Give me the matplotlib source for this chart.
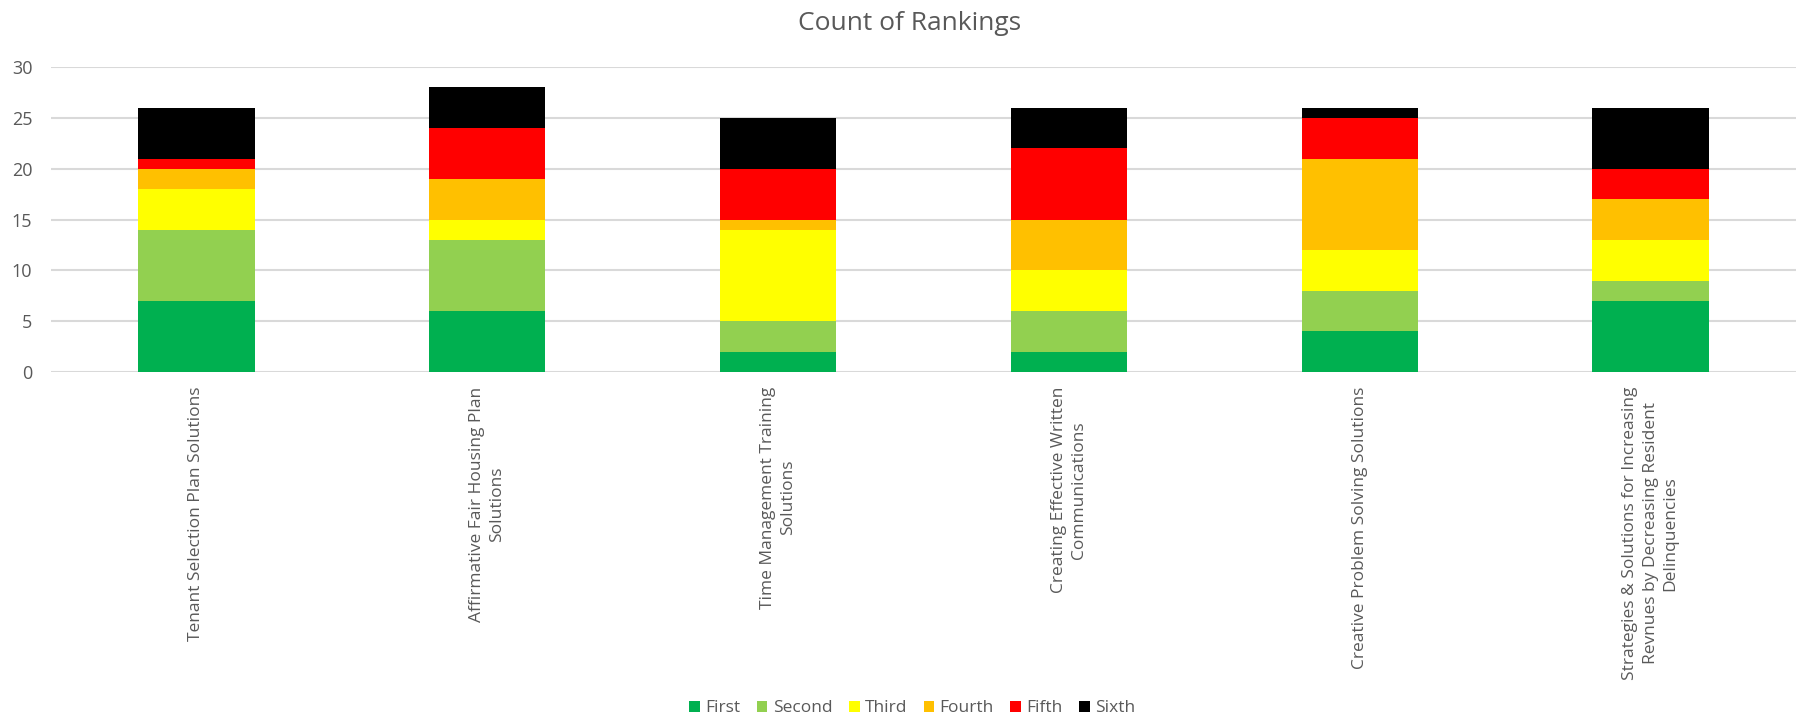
import numpy as np
import matplotlib
matplotlib.use("Agg")
import matplotlib.pyplot as plt

plt.rcParams['font.family'] = ['Open Sans', 'DejaVu Sans']

categories = [
    "Tenant Selection Plan Solutions",
    "Affirmative Fair Housing Plan\nSolutions",
    "Time Management Training\nSolutions",
    "Creating Effective Written\nCommunications",
    "Creative Problem Solving Solutions",
    "Strategies & Solutions for Increasing\nRevnues by Decreasing Resident\nDelinquencies",
]
rank_names = ["First", "Second", "Third", "Fourth", "Fifth", "Sixth"]
first = [7, 6, 2, 2, 4, 7]
second = [7, 7, 3, 4, 4, 2]
third = [4, 2, 9, 4, 4, 4]
fourth = [2, 4, 1, 5, 9, 4]
fifth = [1, 5, 5, 7, 4, 3]
sixth = [5, 4, 5, 4, 1, 6]
colors = ["#00B050", "#92D050", "#FFFF00", "#FFC000", "#FF0000", "#000000"]

series = [first, second, third, fourth, fifth, sixth]
txt = "#595959"

fig = plt.figure(figsize=(17.97, 7.21), dpi=100)
ax = fig.add_axes([0.0284, 0.484, 0.971, 0.423])

x = np.arange(len(categories))
bottom = np.zeros(len(categories))
for name, vals, c in zip(rank_names, series, colors):
    ax.bar(x, vals, 0.40, bottom=bottom, color=c, label=name, zorder=3)
    bottom += np.array(vals)

ax.set_xlim(-0.5, len(categories) - 0.5)
ax.set_ylim(0, 30)
ax.set_yticks(range(0, 31, 5))
ax.grid(axis='y', color='#d9d9d9', linewidth=1.5, zorder=0)
for s in ax.spines.values():
    s.set_visible(False)
ax.tick_params(axis='both', length=0, labelsize=13, labelcolor=txt)
ax.tick_params(axis='y', pad=13.5)
ax.tick_params(axis='x', pad=10.5)
ax.set_xticks(x)
ax.set_xticklabels(categories, rotation=90, ha='center', va='top',
                   multialignment='center', fontsize=12.5, linespacing=1.35)

fig.text(0.506, 0.968, "Count of Rankings", ha='center', va='center',
         fontsize=19, color=txt)

fig.legend(loc='center', bbox_to_anchor=(0.5076, 0.0174), ncol=6, frameon=False,
           fontsize=12.5, labelcolor=txt, handlelength=0.62, handleheight=0.62,
           handletextpad=0.3, columnspacing=0.95, borderpad=0)

fig.savefig("out.png", dpi=100)
